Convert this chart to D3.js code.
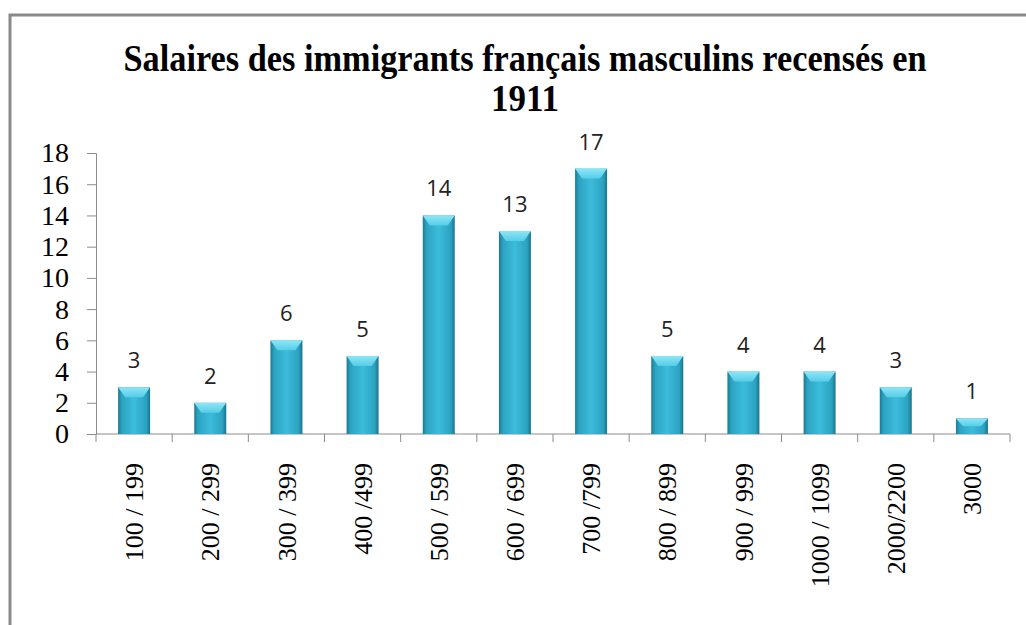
<!DOCTYPE html>
<html>
<head>
<meta charset="utf-8">
<script src="https://cdn.jsdelivr.net/npm/d3@7"></script>
<style>
    html, body { margin: 0; padding: 0; background: #fff; }
    svg { display: block; }
</style>
</head>
<body>
<script>
// data
const categories = ['100 / 199', '200 / 299', '300 / 399', '400 /499', '500 / 599', '600 / 699',
    '700 /799', '800 / 899', '900 / 999', '1000 / 1099', '2000/2200', '3000'];
const counts = [3, 2, 6, 5, 14, 13, 17, 5, 4, 4, 3, 1];
const yTicks = [0, 2, 4, 6, 8, 10, 12, 14, 16, 18];
const titleLines = ['Salaires des immigrants français masculins recensés en', '1911'];

const SERIF = "'Liberation Serif'";
const SANS = "'Open Sans'";

const width = 1026, height = 625;
const margins = {left: 96, right: 16, top: 153, bottom: 191};

const svg = d3.select('body').append('svg')
    .attr('width', width).attr('height', height);

// outer frame (only top and left edges are visible)
svg.append('path')
    .attr('d', `M10,${height} L10,15 L${width},15`)
    .style('fill', 'none').style('stroke', '#8a8a8a').style('stroke-width', 3);

const x = d3.scaleBand()
    .domain(categories)
    .range([margins.left, width - margins.right])
    .paddingInner(0.58).paddingOuter(0.29);

const y = d3.scaleLinear()
    .domain([0, 18])
    .range([height - margins.bottom, margins.top]);

// gradients for the bevelled bars
const defs = svg.append('defs');
const body = defs.append('linearGradient').attr('id', 'barBody')
    .attr('x1', 0).attr('x2', 1).attr('y1', 0).attr('y2', 0);
[[0, '#1c7a94'], [0.12, '#2ca3c1'], [0.5, '#3cbcdb'], [0.88, '#2ca2c0'], [1, '#19738c']]
    .forEach(function (s) {
        body.append('stop').attr('offset', s[0]).attr('stop-color', s[1]);
    });
const cap = defs.append('linearGradient').attr('id', 'barCap')
    .attr('x1', 0).attr('x2', 0).attr('y1', 0).attr('y2', 1);
cap.append('stop').attr('offset', 0).attr('stop-color', '#8ee6f6');
cap.append('stop').attr('offset', 1).attr('stop-color', '#55cde8');

// title (condensed bold serif, stretched to the reference width)
svg.append('g').selectAll('text')
    .data(titleLines)
    .enter().append('text')
    .attr('x', 525)
    .attr('y', (d, i) => 71 + i * 40)
    .attr('text-anchor', 'middle')
    .attr('textLength', (d, i) => i === 0 ? 803 : 68)
    .attr('lengthAdjust', 'spacingAndGlyphs')
    .style('font-family', SERIF)
    .style('font-weight', 'bold')
    .style('font-size', '37px')
    .style('fill', '#000')
    .text(d => d);

// y axis
const yAxis = svg.append('g')
    .attr('transform', `translate(${margins.left},0)`)
    .call(d3.axisLeft(y).tickValues(yTicks).tickSize(9).tickPadding(18));
yAxis.selectAll('line, path').style('stroke', '#8c8c8c');
yAxis.selectAll('text')
    .style('font-family', SERIF)
    .style('font-size', '28px')
    .style('fill', '#000');

// x axis: baseline plus ticks between categories
const x0 = y(0);
svg.append('line')
    .attr('x1', margins.left).attr('x2', width - margins.right)
    .attr('y1', x0).attr('y2', x0)
    .style('stroke', '#8c8c8c');
const gap = (x.step() - x.bandwidth()) / 2;
const bounds = categories.map(c => x(c) - gap).concat([width - margins.right]);
svg.append('g').selectAll('line')
    .data(bounds)
    .enter().append('line')
    .attr('x1', d => d).attr('x2', d => d)
    .attr('y1', x0).attr('y2', x0 + 8)
    .style('stroke', '#8c8c8c');

svg.append('g').selectAll('text')
    .data(categories)
    .enter().append('text')
    .attr('transform', d => `translate(${x(d) + x.bandwidth() / 2},${x0 + 29}) rotate(-90)`)
    .attr('dy', '0.35em')
    .attr('text-anchor', 'end')
    .style('font-family', SERIF)
    .style('font-size', '26px')
    .style('fill', '#000')
    .text(d => d);

// bars
const bars = svg.append('g').selectAll('g')
    .data(counts)
    .enter().append('g');

bars.append('rect')
    .attr('x', (d, i) => x(categories[i]))
    .attr('y', d => y(d))
    .attr('width', x.bandwidth())
    .attr('height', d => x0 - y(d))
    .style('fill', 'url(#barBody)');

bars.append('polygon')
    .attr('points', function (d, i) {
        const bx = x(categories[i]), bw = x.bandwidth(), top = y(d);
        const depth = Math.min(10, (x0 - top) * 0.5);
        return [[bx, top], [bx + bw, top], [bx + bw * 0.78, top + depth], [bx + bw * 0.22, top + depth]]
            .map(p => p.join(',')).join(' ');
    })
    .style('fill', 'url(#barCap)');

// value labels
bars.append('text')
    .attr('x', (d, i) => x(categories[i]) + x.bandwidth() / 2)
    .attr('y', d => y(d) - 19)
    .attr('text-anchor', 'middle')
    .style('font-family', SANS)
    .style('font-size', '22px')
    .style('fill', '#222')
    .text(d => d);
</script>
</body>
</html>
